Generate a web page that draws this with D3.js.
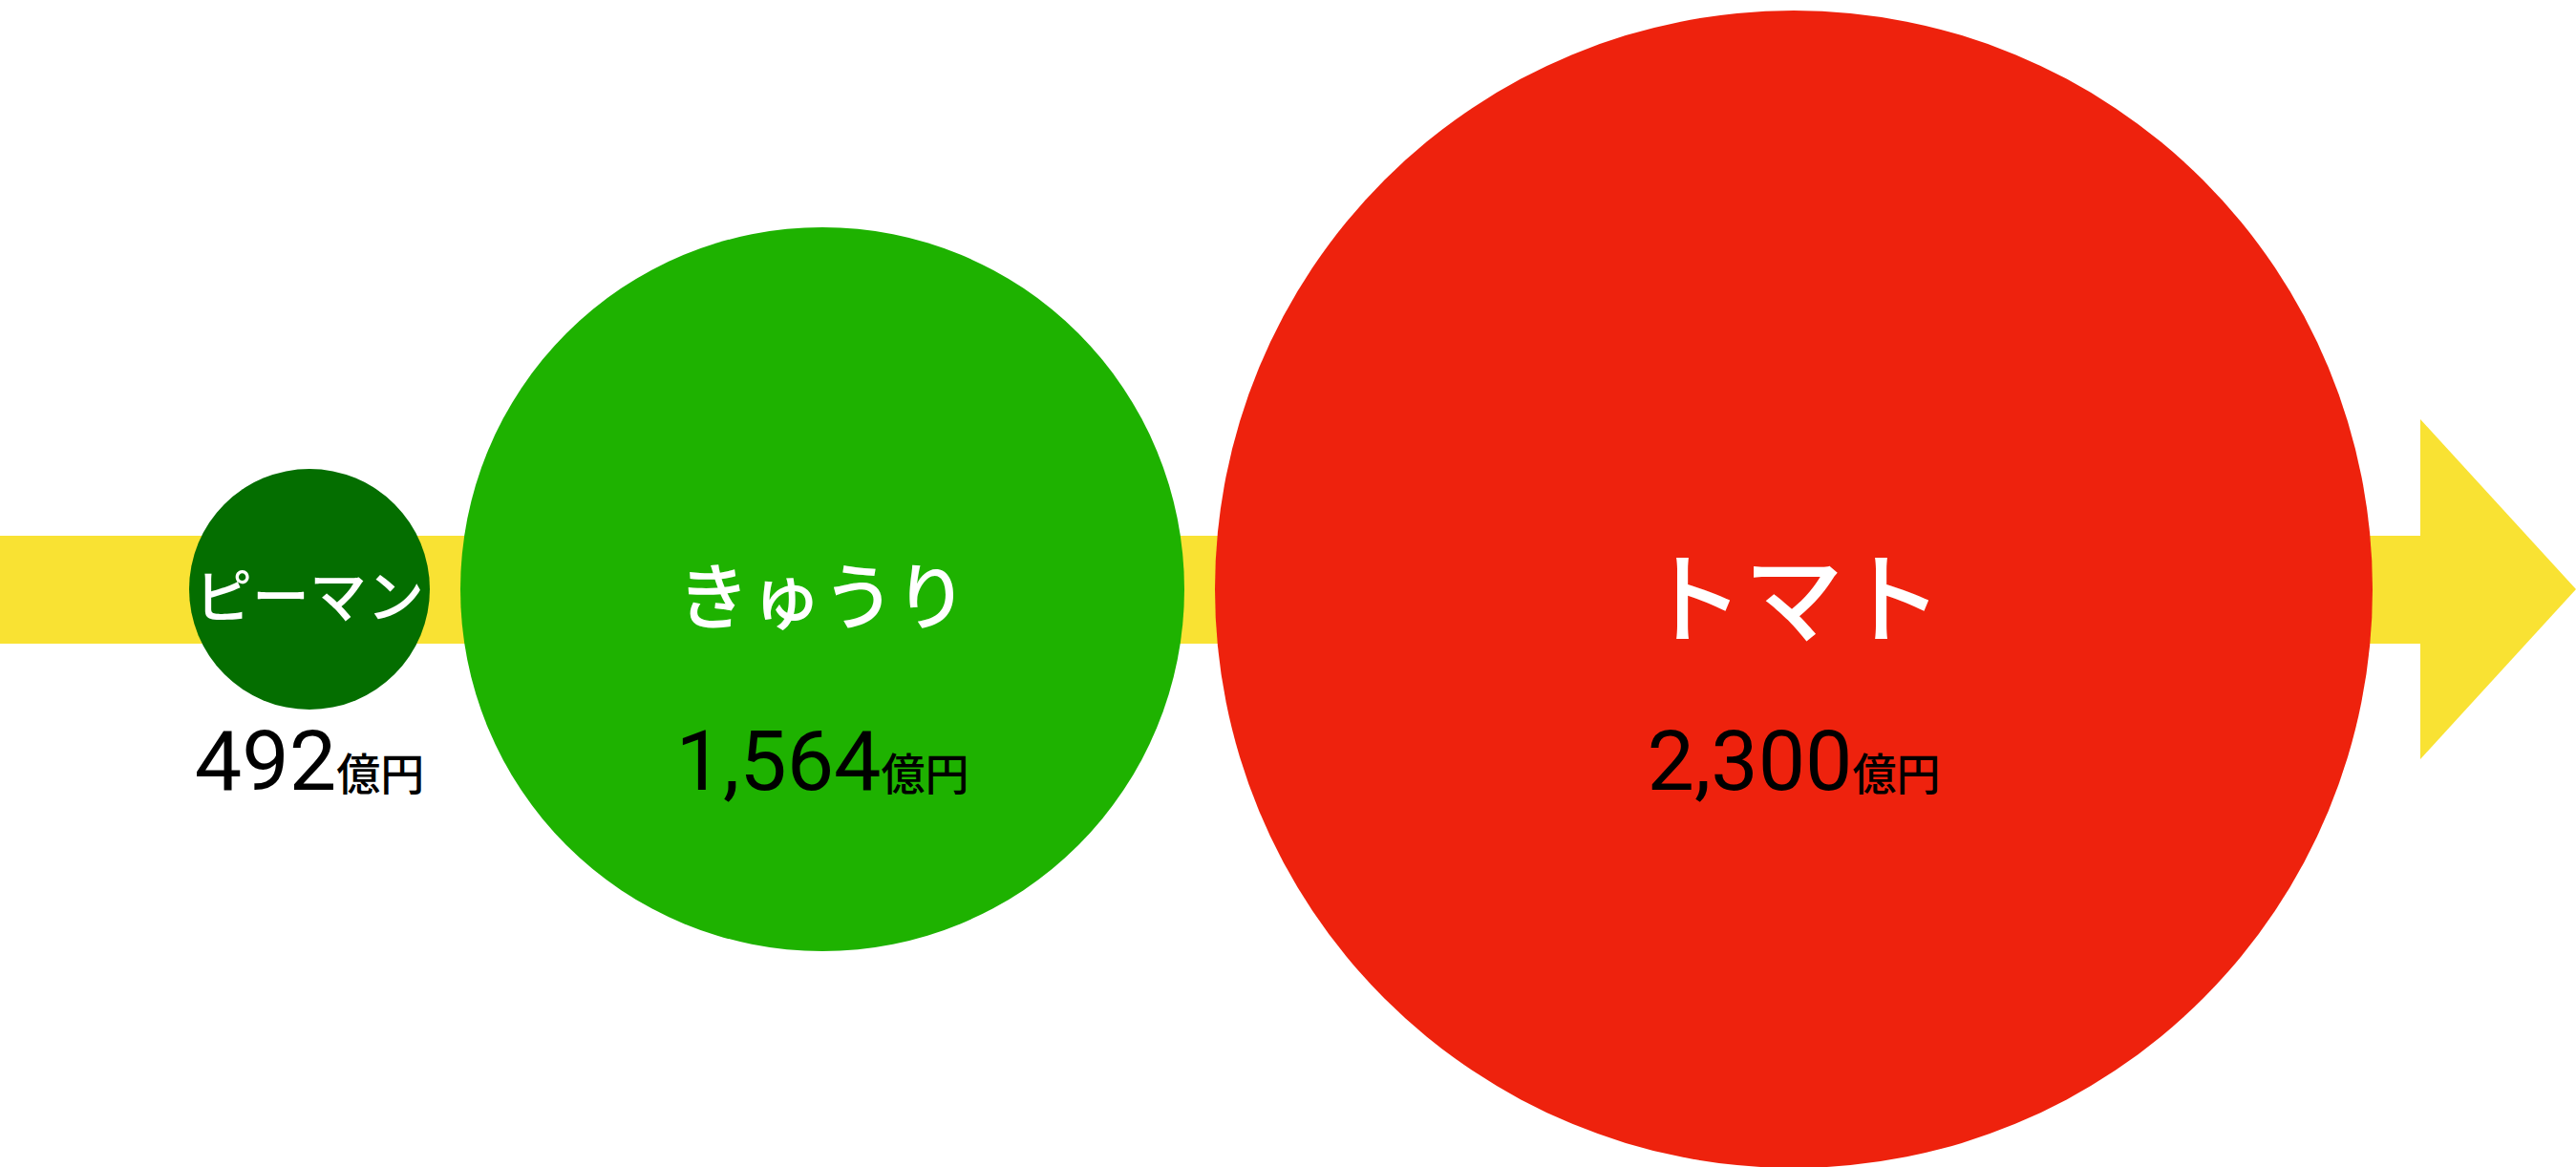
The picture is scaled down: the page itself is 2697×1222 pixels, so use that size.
<!DOCTYPE html>
<html lang="ja">
<head>
<meta charset="utf-8">
<script src="https://cdn.jsdelivr.net/npm/d3@7"></script>
<style>
  html, body { margin: 0; padding: 0; background: #ffffff; overflow: hidden; }
  svg { display: block; }
</style>
</head>
<body>
<svg id="chart"></svg>
<script>
// ---- data ----
const categories = ["ピーマン", "きゅうり", "トマト"];
const values = [492, 1564, 2300];
const unit = "億円";

// ---- styles ----
const colors = ["#046e00", "#1eb200", "#ee220d"];
const bandColor = "#f9e233";
const nameSizes = [60, 76, 104];

const W = 2697, H = 1222;
const cy = 617;
const svg = d3.select("#chart").attr("width", W).attr("height", H);

// radius scale (value -> circle radius)
const r = d3.scaleLinear().domain([492, 1564, 2300]).range([126, 379, 606]);

// horizontal layout: circles placed side by side with a fixed gap
const startX = 198, gap = 32;
const cx = [];
let edge = startX;
values.forEach((v, i) => { cx.push(edge + r(v)); edge += 2 * r(v) + gap; });

// arrow (band + head)
const bandTop = 561, bandBottom = 674, headX = 2534, headHalf = 178;
svg.append("rect")
  .attr("x", 0).attr("y", bandTop)
  .attr("width", headX).attr("height", bandBottom - bandTop)
  .attr("fill", bandColor);
svg.append("path")
  .attr("d", d3.line()([[headX, cy - headHalf], [W, cy], [headX, cy + headHalf]]) + "Z")
  .attr("fill", bandColor);

const g = svg.selectAll("g.item")
  .data(categories.map((c, i) => ({ name: c, value: values[i], i })))
  .join("g").attr("class", "item");

g.append("circle")
  .attr("cx", d => cx[d.i]).attr("cy", cy)
  .attr("r", d => r(d.value))
  .attr("fill", d => colors[d.i]);

g.append("text")
  .attr("x", d => cx[d.i]).attr("y", cy + 3)
  .attr("text-anchor", "middle")
  .attr("dominant-baseline", "central")
  .attr("fill", "#ffffff")
  .style("font-family", "'Noto Sans CJK JP', sans-serif")
  .style("font-weight", 500)
  .style("font-size", d => nameSizes[d.i] + "px")
  .text(d => d.name);

const fmt = d3.format(",");
const vt = g.append("text")
  .attr("x", d => cx[d.i]).attr("y", 827)
  .attr("text-anchor", "middle")
  .attr("fill", "#000000");
vt.append("tspan")
  .style("font-family", "Roboto, 'Liberation Sans', Arial, sans-serif")
  .style("font-weight", 400)
  .style("font-size", "88px")
  .text(d => fmt(d.value));
vt.append("tspan")
  .style("font-family", "'Noto Sans CJK JP', sans-serif")
  .style("font-weight", 500)
  .style("font-size", "46px")
  .text(unit);
</script>
</body>
</html>
